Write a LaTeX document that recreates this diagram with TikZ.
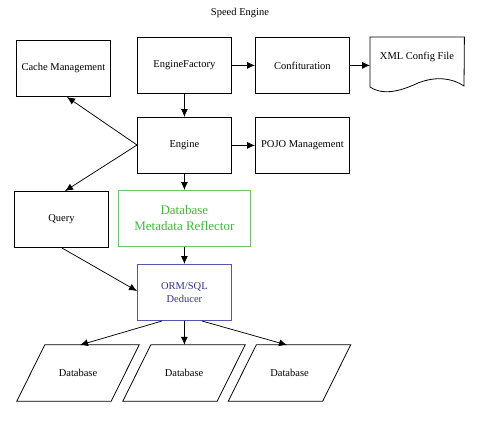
\documentclass[tikz,border=0pt]{standalone}
\usepackage{fontspec}
\setmainfont{Liberation Serif}
\usetikzlibrary{arrows.meta}
\definecolor{dmrgreen}{RGB}{60,185,60}
\definecolor{dmrborder}{RGB}{110,195,110}
\definecolor{ormblue}{RGB}{50,50,150}
\definecolor{ormborder}{RGB}{85,85,175}
\begin{document}
\begin{tikzpicture}[x=1pt,y=-1pt,
  every node/.style={font=\fontsize{10.5}{12.5}\selectfont, inner sep=0pt, align=center},
  boxnode/.style={draw, line width=0.8pt, minimum width=94pt, minimum height=56pt, anchor=north west},
  plainnode/.style={minimum width=94pt, minimum height=56pt, anchor=center},
  conn/.style={line width=0.75pt, -{Latex[length=8pt,width=7pt]}},
  shapeline/.style={line width=0.8pt}
]
\useasboundingbox (0,0) rectangle (478,428);
\node (title) at (240,13) {Speed Engine};

\node[boxnode] (cache) at (16,40) {Cache Management};
\node[boxnode] (factory) at (137,37) {EngineFactory};
\node[boxnode] (config) at (255,37) {Confituration};
\node[minimum width=94pt, minimum height=50pt, anchor=north west] (xml) at (370,37) {};
\node (xmltext) at (417,57) {XML Config File};
\draw[shapeline] (xml.north west) -- (xml.north east) -- (464,86)
  .. controls (452,78) and (436,76) .. (418,83)
  .. controls (405,89) and (385,97) .. (370,87) -- cycle;

\node[boxnode] (engine) at (137,117) {Engine};
\node[boxnode] (pojo) at (255,117) {POJO Management};
\node[boxnode] (query) at (14,191) {Query};
\node[boxnode, draw=dmrborder, minimum width=132pt, font=\fontsize{13}{16}\selectfont, text=dmrgreen] (dmr) at (118,190) {Database\\Metadata Reflector};
\node[boxnode, draw=ormborder, text=ormblue] (orm) at (137,264) {ORM/SQL\\Deducer};

\foreach \n/\cx in {db1/78, db2/184, db3/289.5}{
  \node[plainnode] (\n) at (\cx,373) {Database};
  \draw[shapeline] ([xshift=14pt]\n.north west) -- ([xshift=14pt]\n.north east)
     -- ([xshift=-14pt]\n.south east) -- ([xshift=-14pt]\n.south west) -- cycle;
}

\coordinate (engl) at (137,145);
\coordinate (cachein) at (67,97);
\coordinate (queryin) at (65,191);
\coordinate (queryout) at (62,248);
\coordinate (ormin) at (137,291);
\coordinate (ormo1) at (162,321);
\coordinate (ormo3) at (202,321);
\coordinate (db1in) at (80,345);
\coordinate (db3in) at (287,345);

\draw[conn] (factory) -- (config);
\draw[conn] (config.east) -- (config.east -| xml.west);
\draw[conn] (factory) -- (engine);
\draw[conn] (engine) -- (pojo);
\draw[conn] (engl) -- (cachein);
\draw[conn] (engl) -- (queryin);
\draw[conn] (engine.south) -- (engine.south |- dmr.north);
\draw[conn] (dmr.south -| orm.north) -- (orm.north);
\draw[conn] (queryout) -- (ormin);
\draw[conn] (ormo1) -- (db1in);
\draw[conn] (orm.south) -- (orm.south |- db2.north);
\draw[conn] (ormo3) -- (db3in);
\end{tikzpicture}
\end{document}
